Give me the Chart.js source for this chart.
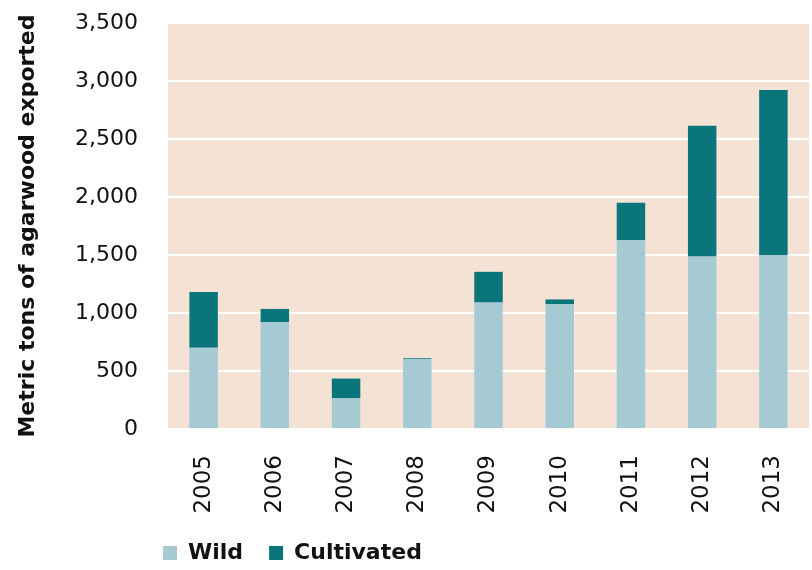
<!DOCTYPE html>
<html>
<head>
<meta charset="utf-8">
<script src="https://cdn.jsdelivr.net/npm/chart.js@4"></script>
<style>
  body { margin: 0; overflow: hidden; background: #fff; }
</style>
</head>
<body>
<canvas id="graphique" width="819" height="570"></canvas>
<script>
// Données
const annees = ['2005', '2006', '2007', '2008', '2009', '2010', '2011', '2012', '2013'];
const sauvage = [700, 920, 265, 603, 1090, 1075, 1627, 1486, 1500];
const cultive = [480, 115, 170, 7, 265, 42, 323, 1128, 1423];
const graduations = [0, 500, 1000, 1500, 2000, 2500, 3000, 3500];

const police = 'DejaVu Sans';

// Fond beige de la zone du graphique + position de la légende
const fondZone = {
  id: 'fondZone',
  beforeDraw(chart) {
    const { ctx, chartArea } = chart;
    ctx.save();
    ctx.fillStyle = '#F4E3D5';
    ctx.fillRect(chartArea.left, chartArea.top, chartArea.right - chartArea.left, chartArea.bottom - chartArea.top);
    ctx.restore();
  },
  afterLayout(chart) {
    const legende = chart.legend;
    legende.left = 137;
    legende.top = 516;
    legende.bottom = legende.top + legende.height;
  }
};

new Chart(document.getElementById('graphique'), {
  type: 'bar',
  data: {
    labels: annees,
    datasets: [
      { label: 'Wild', data: sauvage, backgroundColor: '#A5CAD4' },
      { label: 'Cultivated', data: cultive, backgroundColor: '#0B757C' }
    ]
  },
  options: {
    responsive: false,
    animation: false,
    categoryPercentage: 0.4,
    barPercentage: 1,
    layout: { padding: { top: 23, right: 0, bottom: 0, left: 0 } },
    plugins: {
      tooltip: { enabled: false },
      legend: {
        position: 'bottom',
        align: 'start',
        labels: {
          color: '#111',
          font: { family: police, size: 22, weight: 'bold' },
          boxWidth: 14,
          boxHeight: 14,
          padding: 26
        }
      }
    },
    scales: {
      x: {
        stacked: true,
        grid: { display: false },
        border: { display: false },
        ticks: {
          color: '#111',
          font: { family: police, size: 23 },
          minRotation: 90,
          maxRotation: 90,
          padding: 18
        },
        afterFit(scale) { scale.height = 83; }
      },
      y: {
        stacked: true,
        min: 0,
        max: 3500,
        afterBuildTicks(scale) { scale.ticks = graduations.map(v => ({ value: v })); },
        grid: { color: '#ffffff', lineWidth: 2, drawTicks: false },
        border: { display: false },
        ticks: {
          color: '#111',
          font: { family: police, size: 22 },
          padding: 30,
          callback: v => v.toLocaleString('en-US')
        },
        title: {
          display: true,
          text: 'Metric tons of agarwood exported',
          color: '#111',
          font: { family: police, size: 22, weight: 'bold' },
          padding: { top: 15, bottom: 0 }
        },
        afterFit(scale) {
          scale.width = 168;
          scale.paddingTop = 0;
          scale.paddingBottom = 0;
        }
      }
    }
  },
  plugins: [fondZone]
});
</script>
</body>
</html>
